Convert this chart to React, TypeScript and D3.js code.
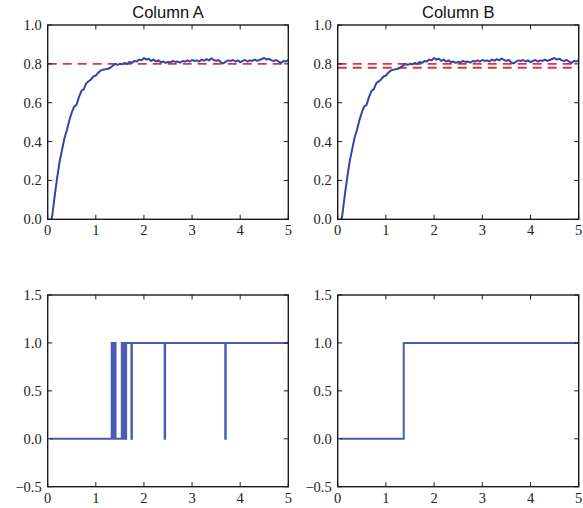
import React from "react";
import * as d3 from "d3";

const titles = ["Column A", "Column B"];
const xTicks = [0, 1, 2, 3, 4, 5];
const topYTicks = [0.0, 0.2, 0.4, 0.6, 0.8, 1.0];
const botYTicks = [-0.5, 0.0, 0.5, 1.0, 1.5];

// noisy rise, sampled every 0.05 from t=0.10 (preceded by start point)
const riseStartT = 0.08;
const riseStep = 0.05;
const riseY = [
  0.03, 0.13, 0.22, 0.3, 0.36, 0.42, 0.46, 0.51, 0.55, 0.58,
  0.59, 0.63, 0.66, 0.67, 0.7, 0.71, 0.72, 0.735, 0.74, 0.755,
  0.765, 0.77, 0.772, 0.775, 0.78, 0.79, 0.8, 0.795, 0.8, 0.798,
  0.805, 0.8, 0.81, 0.805, 0.815, 0.812, 0.822, 0.818, 0.83, 0.822,
  0.826, 0.815, 0.822, 0.812, 0.818, 0.808, 0.812, 0.805, 0.81, 0.808,
  0.815, 0.81, 0.812, 0.806, 0.815, 0.812, 0.818, 0.812, 0.82, 0.815,
  0.818, 0.812, 0.822, 0.816, 0.824, 0.818, 0.828, 0.82, 0.815, 0.82,
  0.808, 0.802, 0.812, 0.818, 0.815, 0.82, 0.812, 0.818, 0.808, 0.815,
  0.82, 0.812, 0.818, 0.815, 0.822, 0.815, 0.82, 0.825, 0.83, 0.822,
  0.826, 0.818, 0.815, 0.82, 0.812, 0.805, 0.815, 0.812, 0.82,
];
const refLinesA = [0.8];
const refLinesB = [0.8, 0.78];

// step series (value holds from each time until the next)
const stepAT = [0.05, 1.33, 1.36, 1.38, 1.41, 1.54, 1.57, 1.59, 1.61, 1.63, 1.74, 1.75, 2.43, 2.44, 3.69, 3.7, 5.0];
const stepAV = [0, 1, 0, 1, 0, 1, 0, 1, 0, 1, 0, 1, 0, 1, 0, 1, 1];
const stepBT = [0.05, 1.37, 5.0];
const stepBV = [0, 1, 1];

const W = 583;
const H = 508;
const colX = [
  [47.7, 288.3],
  [337.7, 578.7],
];
const topRange: [number, number] = [219.3, 25];
const botRange: [number, number] = [486.7, 295];

const BLUE = "#3346a3";
const BLUE2 = "#4a5cb2";
const RED = "#e3323b";
const FRAME = "#1a1a1a";
const SERIF = "'Liberation Serif', 'DejaVu Serif', serif";
const SANS = "'Liberation Sans', Arial, sans-serif";

const fmt = (v: number, d: number) => (v < 0 ? "\u2212" : "") + Math.abs(v).toFixed(d);

function Panel({
  xr,
  yr,
  yDomain,
  yTicks,
  yDec,
  children,
  title,
}: {
  xr: number[];
  yr: [number, number];
  yDomain: [number, number];
  yTicks: number[];
  yDec: number;
  children: (x: d3.ScaleLinear<number, number>, y: d3.ScaleLinear<number, number>) => React.ReactNode;
  title?: string;
}) {
  const x = d3.scaleLinear().domain([0, 5]).range([xr[0], xr[1]]);
  const y = d3.scaleLinear().domain(yDomain).range(yr);
  const tl = 4.5;
  const clipId = `clip-${Math.round(xr[0])}-${Math.round(yr[1])}`;
  return (
    <g>
      <defs>
        <clipPath id={clipId}>
          <rect x={xr[0]} y={yr[1]} width={xr[1] - xr[0]} height={yr[0] - yr[1]} />
        </clipPath>
      </defs>
      <g clipPath={`url(#${clipId})`}>{children(x, y)}</g>
      {xTicks.map((t) => (
        <g key={"x" + t}>
          <line x1={x(t)} x2={x(t)} y1={yr[0]} y2={yr[0] - tl} stroke={FRAME} strokeWidth={1} />
          <line x1={x(t)} x2={x(t)} y1={yr[1]} y2={yr[1] + tl} stroke={FRAME} strokeWidth={1} />
          <text
            x={x(t)}
            y={yr[0] + 16}
            textAnchor="middle"
            fontFamily={SERIF}
            fontSize={14.5}
            fill="#222"
          >
            {t}
          </text>
        </g>
      ))}
      {yTicks.map((t) => (
        <g key={"y" + t}>
          <line x1={xr[0]} x2={xr[0] + tl} y1={y(t)} y2={y(t)} stroke={FRAME} strokeWidth={1} />
          <line x1={xr[1]} x2={xr[1] - tl} y1={y(t)} y2={y(t)} stroke={FRAME} strokeWidth={1} />
          <text
            x={xr[0] - 6}
            y={y(t) + 5}
            textAnchor="end"
            fontFamily={SERIF}
            fontSize={14.5}
            fill="#222"
          >
            {fmt(t, yDec)}
          </text>
        </g>
      ))}
      <rect
        x={xr[0]}
        y={yr[1]}
        width={xr[1] - xr[0]}
        height={yr[0] - yr[1]}
        fill="none"
        stroke={FRAME}
        strokeWidth={1.4}
      />
      {title && (
        <text
          x={(xr[0] + xr[1]) / 2}
          y={yr[1] - 7}
          textAnchor="middle"
          fontFamily={SANS}
          fontSize={16.5}
          fill="#111"
        >
          {title}
        </text>
      )}
    </g>
  );
}

export default function App() {
  const risePts: [number, number][] = [[riseStartT, 0]].concat(
    riseY.map((v, i) => [0.1 + i * riseStep, v] as [number, number])
  ) as [number, number][];

  const topContent = (refs: number[]) => (x: d3.ScaleLinear<number, number>, y: d3.ScaleLinear<number, number>) => {
    const line = d3
      .line<[number, number]>()
      .x((d) => x(d[0]))
      .y((d) => y(d[1]));
    return (
      <g>
        {refs.map((r) => (
          <line
            key={r}
            x1={x(0)}
            x2={x(5)}
            y1={y(r)}
            y2={y(r)}
            stroke={RED}
            strokeWidth={1.8}
            strokeDasharray="9,6"
          />
        ))}
        <path d={line(risePts) || ""} fill="none" stroke={BLUE} strokeWidth={2} strokeLinejoin="round" />
      </g>
    );
  };

  const stepContent = (ts: number[], vs: number[]) => (x: d3.ScaleLinear<number, number>, y: d3.ScaleLinear<number, number>) => {
    const line = d3
      .line<number>()
      .x((_, i) => x(ts[i]))
      .y((v) => y(v))
      .curve(d3.curveStepAfter);
    return <path d={line(vs) || ""} fill="none" stroke={BLUE2} strokeWidth={2} />;
  };

  return (
    <svg
      width={W}
      height={H}
      style={{ position: "absolute", left: 0, top: 0, background: "#fff" }}
    >
      <rect width={W} height={H} fill="#fff" />
      <Panel xr={colX[0]} yr={topRange} yDomain={[0, 1]} yTicks={topYTicks} yDec={1} title={titles[0]}>
        {topContent(refLinesA)}
      </Panel>
      <Panel xr={colX[1]} yr={topRange} yDomain={[0, 1]} yTicks={topYTicks} yDec={1} title={titles[1]}>
        {topContent(refLinesB)}
      </Panel>
      <Panel xr={colX[0]} yr={botRange} yDomain={[-0.5, 1.5]} yTicks={botYTicks} yDec={1}>
        {stepContent(stepAT, stepAV)}
      </Panel>
      <Panel xr={colX[1]} yr={botRange} yDomain={[-0.5, 1.5]} yTicks={botYTicks} yDec={1}>
        {stepContent(stepBT, stepBV)}
      </Panel>
    </svg>
  );
}
